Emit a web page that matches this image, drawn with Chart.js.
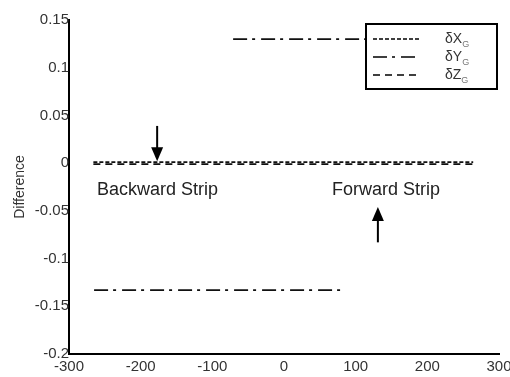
<!DOCTYPE html>
<html>
<head>
<meta charset="utf-8">
<script src="https://cdn.jsdelivr.net/npm/chart.js@4.4.1/dist/chart.umd.min.js"></script>
<style>
  html, body { margin: 0; padding: 0; background: #fff; overflow: hidden; }
</style>
</head>
<body>
<canvas id="myChart" width="510" height="377"></canvas>
<script>
// series (x = position, y = difference)
const dxX = [-266, 264];
const dxY = [0.001, 0.001];
const dyBackX = [-265, 80];
const dyBackY = [-0.133, -0.133];
const dyFwdX = [-71, 265];
const dyFwdY = [0.13, 0.13];
const dzX = [-266, 264];
const dzY = [-0.001, -0.001];

const xTicks = [-300, -200, -100, 0, 100, 200, 300];
const yTicks = [0.15, 0.1, 0.05, 0, -0.05, -0.1, -0.15, -0.2];

const legendNames = [['δX', 'G'], ['δY', 'G'], ['δZ', 'G']];
const dashX = [4, 2];
const dashY = [14, 5, 3, 6];
const dashZ = [7, 5];

const fontFam = '"Liberation Sans", Arial, sans-serif';

function pts(xs, ys) {
  return xs.map((x, i) => ({ x: x, y: ys[i] }));
}

const extras = {
  id: 'extras',
  afterDraw(chart) {
    const c = chart.ctx;
    const xs = chart.scales.x, ys = chart.scales.y;
    c.save();
    c.fillStyle = '#222';
    c.strokeStyle = '#000';

    // strip labels
    c.font = '18px ' + fontFam;
    c.textBaseline = 'middle';
    c.textAlign = 'left';
    c.fillText('Backward Strip', xs.getPixelForValue(-261), ys.getPixelForValue(-0.028));
    c.fillText('Forward Strip', xs.getPixelForValue(67), ys.getPixelForValue(-0.028));

    // arrows
    function arrow(xv, y0, y1) {
      const px = xs.getPixelForValue(xv);
      const p0 = ys.getPixelForValue(y0);
      const p1 = ys.getPixelForValue(y1);
      const dir = p1 > p0 ? 1 : -1;
      c.lineWidth = 2;
      c.setLineDash([]);
      c.beginPath();
      c.moveTo(px, p0);
      c.lineTo(px, p1 - dir * 10);
      c.stroke();
      c.beginPath();
      c.moveTo(px, p1);
      c.lineTo(px - 6, p1 - dir * 14);
      c.lineTo(px + 6, p1 - dir * 14);
      c.closePath();
      c.fillStyle = '#000';
      c.fill();
    }
    arrow(-177, 0.039, 0.002);
    arrow(131, -0.083, -0.046);

    // legend box
    const lx = 366, ly = 24, lw = 131, lh = 65;
    c.fillStyle = '#fff';
    c.fillRect(lx, ly, lw, lh);
    c.lineWidth = 2;
    c.setLineDash([]);
    c.strokeRect(lx, ly, lw, lh);
    const dashes = [dashX, dashY, dashZ];
    legendNames.forEach((nm, i) => {
      const yy = ly + 15 + i * 18;
      c.setLineDash(dashes[i]);
      c.lineWidth = 1.6;
      c.beginPath();
      c.moveTo(373, yy);
      c.lineTo(419, yy);
      c.stroke();
      c.setLineDash([]);
      c.fillStyle = '#333';
      c.font = '14px ' + fontFam;
      c.textAlign = 'left';
      c.textBaseline = 'middle';
      c.fillText(nm[0], 445, yy);
      const w = c.measureText(nm[0]).width;
      c.font = '9px ' + fontFam;
      c.fillStyle = '#777';
      c.fillText(nm[1], 445 + w, yy + 6);
    });
    c.restore();
  }
};

const ctx = document.getElementById('myChart');
let chart = new Chart(ctx, {
  type: 'line',
  data: {
    datasets: [
      { label: 'δXG', data: pts(dxX, dxY), borderColor: '#111', borderWidth: 1.8, borderDash: dashX },
      { label: 'δYG', data: pts(dyBackX, dyBackY), borderColor: '#111', borderWidth: 1.8, borderDash: dashY },
      { label: 'δYG fwd', data: pts(dyFwdX, dyFwdY), borderColor: '#111', borderWidth: 1.8, borderDash: dashY },
      { label: 'δZG', data: pts(dzX, dzY), borderColor: '#111', borderWidth: 1.8, borderDash: dashZ }
    ]
  },
  options: {
    responsive: false,
    animation: false,
    devicePixelRatio: 1,
    elements: { point: { radius: 0 } },
    layout: { padding: { left: 0, right: 11, top: 20, bottom: 0 } },
    plugins: {
      legend: { display: false },
      tooltip: { enabled: false }
    },
    scales: {
      x: {
        type: 'linear',
        min: -300,
        max: 300,
        afterBuildTicks: s => { s.ticks = xTicks.map(v => ({ value: v })); },
        afterFit: s => { s.height = 23; s.paddingLeft = 0; s.paddingRight = 0; },
        grid: { display: false, drawTicks: false },
        border: { display: true, color: '#000', width: 2 },
        ticks: { color: '#333', font: { family: fontFam, size: 15 }, padding: 4, maxRotation: 0, autoSkip: false }
      },
      y: {
        min: -0.2,
        max: 0.15,
        afterBuildTicks: s => { s.ticks = yTicks.map(v => ({ value: v })); },
        afterFit: s => { s.width = 69; s.paddingTop = 0; s.paddingBottom = 0; },
        grid: { display: false, drawTicks: false },
        border: { display: true, color: '#000', width: 2 },
        title: { display: true, text: 'Difference', color: '#333', font: { family: fontFam, size: 14 }, padding: { top: 12, bottom: 0 } },
        ticks: {
          color: '#333',
          font: { family: fontFam, size: 15 },
          padding: 0,
          autoSkip: false,
          callback: v => String(Math.round(v * 100) / 100)
        }
      }
    }
  },
  plugins: [extras]
});
</script>
</body>
</html>
